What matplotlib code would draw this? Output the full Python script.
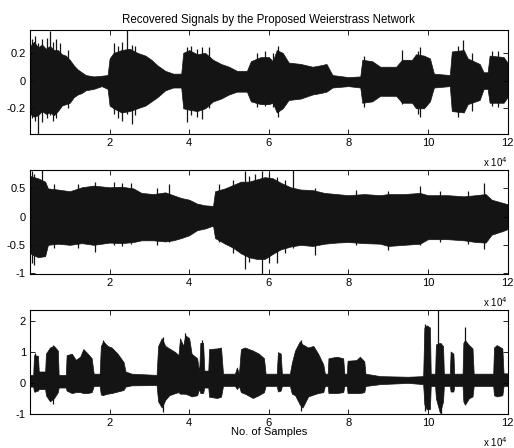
import numpy as np
import matplotlib
matplotlib.use('Agg')
import matplotlib.pyplot as plt

plt.rcParams['font.family'] = ['Liberation Sans', 'DejaVu Sans']
plt.rcParams['font.size'] = 8

# envelopes, x in units of 10^4 samples
s1_x = [0.0, 0.1, 0.2, 0.3, 0.4, 0.5, 0.6, 0.7, 0.8, 0.9, 1.0, 1.1, 1.2, 1.3, 1.4, 1.6, 1.8, 1.95,
        2.0, 2.1, 2.3, 2.5, 2.7, 2.9, 3.05, 3.2, 3.4, 3.6, 3.8, 3.85, 4.0, 4.2, 4.4, 4.6, 4.8, 5.0,
        5.2, 5.45, 5.55, 5.8, 6.0, 6.1, 6.2, 6.35, 6.5, 6.8, 7.1, 7.3, 7.45, 7.6, 8.0, 8.3, 8.35,
        8.6, 8.8, 9.2, 9.35, 9.6, 9.7, 9.9, 10.05, 10.15, 10.55, 10.6, 10.9, 11.0, 11.3, 11.4,
        11.5, 11.55, 11.9, 12.0]
s1_hi = [0.25, 0.28, 0.24, 0.26, 0.23, 0.25, 0.22, 0.22, 0.19, 0.18, 0.15, 0.11, 0.08, 0.06, 0.04,
         0.03, 0.035, 0.04, 0.16, 0.2, 0.22, 0.23, 0.2, 0.18, 0.15, 0.11, 0.07, 0.05, 0.05, 0.2,
         0.22, 0.19, 0.2, 0.15, 0.12, 0.1, 0.07, 0.07, 0.14, 0.17, 0.17, 0.14, 0.22, 0.2, 0.13,
         0.12, 0.1, 0.11, 0.12, 0.04, 0.025, 0.03, 0.15, 0.14, 0.1, 0.1, 0.15, 0.15, 0.19, 0.18,
         0.16, 0.05, 0.04, 0.21, 0.22, 0.16, 0.12, 0.06, 0.06, 0.18, 0.17, 0.13]
s1_lo = [-0.24, -0.26, -0.25, -0.22, -0.24, -0.23, -0.25, -0.22, -0.18, -0.17, -0.16, -0.12, -0.1,
         -0.09, -0.07, -0.06, -0.04, -0.06, -0.18, -0.2, -0.23, -0.22, -0.2, -0.18, -0.15, -0.12,
         -0.07, -0.05, -0.05, -0.2, -0.21, -0.22, -0.2, -0.15, -0.13, -0.1, -0.08, -0.08, -0.15,
         -0.17, -0.17, -0.16, -0.23, -0.2, -0.14, -0.13, -0.1, -0.09, -0.08, -0.05, -0.04, -0.05,
         -0.16, -0.15, -0.11, -0.11, -0.16, -0.16, -0.2, -0.2, -0.15, -0.05, -0.04, -0.22, -0.23,
         -0.17, -0.14, -0.06, -0.06, -0.16, -0.16, -0.12]
s1_spk_x = [0.05, 0.13, 0.21, 0.3, 0.42, 0.5, 0.59, 0.65, 0.75, 0.95, 2.1, 2.2, 2.3, 2.43, 2.56,
            2.65, 3.94, 4.05, 4.2, 4.31, 4.5, 5.7, 5.9, 6.1, 6.24, 8.4, 9.34, 9.75, 9.8, 10.75,
            10.89, 11.1, 11.6, 11.75]
s1_spk_hi = [0.3, 0.32, 0.27, 0.3, 0.31, 0.36, 0.28, 0.3, 0.27, 0.22, 0.27, 0.25, 0.28, 0.368,
             0.26, 0.25, 0.24, 0.25, 0.23, 0.24, 0.24, 0.2, 0.21, 0.2, 0.25, 0.18, 0.22, 0.21,
             0.24, 0.25, 0.29, 0.2, 0.21, 0.21]
s1_spk_lo = [-0.27, -0.29, -0.385, -0.3, -0.27, -0.25, -0.29, -0.27, -0.2, -0.2, -0.24, -0.27,
             -0.29, -0.24, -0.31, -0.25, -0.3, -0.25, -0.26, -0.28, -0.2, -0.19, -0.18, -0.19,
             -0.26, -0.19, -0.17, -0.24, -0.26, -0.26, -0.23, -0.22, -0.18, -0.19]

s2_x = [0.0, 0.2, 0.38, 0.45, 0.7, 1.0, 1.3, 1.6, 2.0, 2.3, 2.6, 2.8, 3.1, 3.4, 3.6, 3.8, 4.0, 4.2,
        4.4, 4.6, 4.65, 4.9, 5.1, 5.3, 5.5, 5.7, 5.9, 6.1, 6.3, 6.55, 6.8, 7.1, 7.4, 7.7, 8.0, 8.4,
        8.8, 9.0, 9.4, 9.8, 10.0, 10.5, 10.9, 11.2, 11.45, 11.6, 11.9, 12.0]
s2_hi = [0.72, 0.68, 0.62, 0.5, 0.48, 0.45, 0.52, 0.55, 0.52, 0.53, 0.5, 0.42, 0.4, 0.43, 0.38,
         0.33, 0.3, 0.23, 0.2, 0.19, 0.45, 0.5, 0.56, 0.62, 0.62, 0.66, 0.7, 0.68, 0.6, 0.52, 0.48,
         0.47, 0.42, 0.4, 0.38, 0.4, 0.38, 0.4, 0.4, 0.42, 0.38, 0.38, 0.36, 0.38, 0.4, 0.3, 0.24,
         0.22]
s2_lo = [-0.65, -0.72, -0.7, -0.5, -0.48, -0.5, -0.47, -0.5, -0.46, -0.47, -0.45, -0.42, -0.42,
         -0.44, -0.42, -0.38, -0.33, -0.24, -0.21, -0.16, -0.38, -0.48, -0.55, -0.65, -0.72,
         -0.75, -0.75, -0.66, -0.58, -0.53, -0.5, -0.52, -0.48, -0.46, -0.45, -0.47, -0.48, -0.52,
         -0.5, -0.48, -0.4, -0.4, -0.42, -0.45, -0.46, -0.32, -0.25, -0.22]
s2_spk_x = [0.05, 0.1, 0.3, 0.6, 1.2, 1.63, 2.1, 2.3, 2.55, 3.2, 3.5, 4.75, 5.1, 5.4, 5.5, 5.65,
            5.84, 6.0, 6.2, 6.4, 6.62, 7.16, 8.2, 9.0, 9.8, 10.3, 11.0, 11.4]
s2_spk_hi = [0.8, 0.76, 0.82, 0.58, 0.57, 0.61, 0.62, 0.6, 0.6, 0.5, 0.58, 0.58, 0.65, 0.8, 0.72,
             0.75, 0.8, 0.78, 0.7, 0.65, 0.83, 0.5, 0.47, 0.45, 0.55, 0.45, 0.45, 0.6]
s2_spk_lo = [-0.83, -0.85, -0.7, -0.55, -0.55, -0.62, -0.5, -0.52, -0.48, -0.5, -0.45, -0.45,
             -0.65, -0.93, -0.8, -0.7, -1.02, -0.82, -0.83, -0.65, -0.55, -0.68, -0.5, -0.6, -0.5,
             -0.45, -0.48, -0.57]

s3_x = [0.0, 0.08, 0.1, 0.2, 0.22, 0.38, 0.4, 0.5, 0.6, 0.7, 0.72, 0.9, 0.92, 1.05, 1.15, 1.26,
        1.34, 1.45, 1.55, 1.6, 1.75, 1.78, 1.84, 1.95, 2.05, 2.2, 2.35, 2.4, 2.55, 3.18, 3.22,
        3.31, 3.4, 3.5, 3.65, 3.73, 3.77, 3.85, 3.9, 4.0, 4.06, 4.2, 4.25, 4.28, 4.35, 4.38, 4.48,
        4.5, 4.7, 4.8, 4.85, 5.15, 5.2, 5.25, 5.3, 5.4, 5.6, 5.75, 5.88, 5.92, 6.2, 6.23, 6.3,
        6.33, 6.53, 6.58, 6.66, 6.78, 6.85, 6.99, 7.12, 7.24, 7.37, 7.41, 7.48, 7.5, 7.71, 7.87,
        7.9, 7.96, 7.98, 8.2, 8.29, 8.4, 8.43, 8.8, 9.5, 9.88, 9.91, 9.97, 10.05, 10.07, 10.18,
        10.2, 10.3, 10.38, 10.4, 10.55, 10.57, 10.64, 10.66, 10.87, 10.89, 10.93, 11.03, 11.12,
        11.15, 11.64, 11.66, 11.73, 11.87, 11.9, 12.0]
s3_hi = [0.26, 0.26, 0.9, 0.88, 0.37, 0.37, 0.95, 1.15, 1.2, 1.05, 0.26, 0.26, 0.9, 0.95, 0.75,
         0.85, 1.1, 0.95, 0.8, 0.3, 0.3, 1.2, 1.35, 1.2, 1.15, 0.95, 0.68, 0.37, 0.3, 0.26, 1.2,
         1.45, 1.2, 1.12, 1.0, 0.9, 1.45, 1.2, 1.55, 1.45, 0.95, 0.8, 0.35, 1.3, 1.3, 0.4, 0.4,
         1.1, 1.12, 1.15, 0.3, 0.3, 0.5, 0.3, 1.1, 1.15, 1.05, 0.95, 0.8, 0.3, 0.3, 1.0, 0.95,
         0.3, 0.3, 0.65, 1.05, 1.35, 1.25, 1.15, 1.2, 0.95, 0.6, 0.3, 0.3, 0.8, 0.85, 0.8, 0.3,
         0.3, 0.72, 0.74, 0.85, 0.7, 0.3, 0.22, 0.2, 0.22, 1.8, 1.87, 1.8, 0.3, 0.3, 1.25, 1.3,
         1.2, 0.3, 0.3, 1.02, 0.95, 0.3, 0.3, 1.3, 1.39, 1.23, 1.12, 0.3, 0.3, 1.15, 1.23, 1.12,
         0.31, 0.31]
s3_lo = [-0.12, -0.12, -0.28, -0.25, -0.2, -0.2, -0.4, -0.6, -0.5, -0.3, -0.15, -0.15, -0.25,
         -0.33, -0.3, -0.3, -0.33, -0.33, -0.3, -0.1, -0.1, -0.38, -0.39, -0.35, -0.33, -0.28,
         -0.23, -0.12, -0.08, -0.07, -0.6, -0.8, -0.55, -0.4, -0.33, -0.3, -0.35, -0.35, -0.35,
         -0.4, -0.44, -0.4, -0.2, -0.33, -0.33, -0.15, -0.15, -0.45, -0.49, -0.45, -0.1, -0.1,
         -0.2, -0.1, -0.3, -0.35, -0.49, -0.4, -0.3, -0.1, -0.1, -0.28, -0.25, -0.1, -0.1, -0.35,
         -0.4, -0.7, -0.8, -0.44, -0.38, -0.33, -0.3, -0.1, -0.1, -0.33, -0.33, -0.3, -0.1, -0.1,
         -0.33, -0.33, -0.33, -0.3, -0.1, -0.04, 0.0, -0.04, -0.7, -0.86, -0.85, -0.1, -0.1, -0.5,
         -0.97, -0.6, -0.1, -0.1, -0.28, -0.28, -0.1, -0.1, -0.6, -0.71, -0.5, -0.44, -0.1, -0.1,
         -0.4, -0.44, -0.4, -0.1, -0.1]
s3_spk_x = [0.13, 0.59, 1.84, 3.33, 3.89, 4.31, 6.8, 9.93, 10.26, 10.33, 10.94]
s3_spk_hi = [0.96, 1.23, 1.39, 1.5, 1.61, 1.39, 1.4, 1.9, 2.38, 1.3, 1.83]
s3_spk_lo = [-0.3, -0.7, -0.39, -0.95, -0.35, -0.33, -0.9, -0.9, -0.5, -1.01, -0.56]

panels = [
    (s1_x, s1_hi, s1_lo, s1_spk_x, s1_spk_hi, s1_spk_lo, [-0.2, 0, 0.2], ['-0.2', '0', '0.2']),
    (s2_x, s2_hi, s2_lo, s2_spk_x, s2_spk_hi, s2_spk_lo, [-1, -0.5, 0, 0.5], ['-1', '-0.5', '0', '0.5']),
    (s3_x, s3_hi, s3_lo, s3_spk_x, s3_spk_hi, s3_spk_lo, [-1, 0, 1, 2], ['-1', '0', '1', '2']),
]
xticks = [2, 4, 6, 8, 10, 12]

fig = plt.figure(figsize=(5.14, 4.48), dpi=100)
bottoms = [0.701, 0.388, 0.0759]
sig_color = '#141414'

axes = []
for (x, hi, lo, sx, shi, slo, yt, ytl), b in zip(panels, bottoms):
    ax = fig.add_axes([0.0584, b, 0.929, 0.233])
    ax.fill_between(x, lo, hi, color=sig_color, lw=0.5)
    ax.vlines(sx, slo, shi, color=sig_color, lw=0.9)
    ymin = min(min(lo), min(slo))
    ymax = max(max(hi), max(shi))
    ax.set_xlim(0, 12)
    ax.set_ylim(ymin, ymax)
    ax.set_xticks(xticks)
    ax.set_xticklabels([str(t) for t in xticks])
    ax.set_yticks(yt)
    ax.set_yticklabels(ytl)
    ax.tick_params(direction='in', top=True, right=True, length=3.5, width=0.6, pad=3,
                   labelsize=8)
    for sp in ax.spines.values():
        sp.set_linewidth(0.8)
    ax.text(1.0, -0.2, r'x 10$^{4}$', transform=ax.transAxes, ha='right', va='top', fontsize=7)
    axes.append(ax)

axes[0].set_title('Recovered Signals by the Proposed Weierstrass Network', fontsize=8.3, pad=5)
axes[2].set_xlabel('No. of Samples', fontsize=8, labelpad=-1)

fig.savefig('out.png', dpi=100)
